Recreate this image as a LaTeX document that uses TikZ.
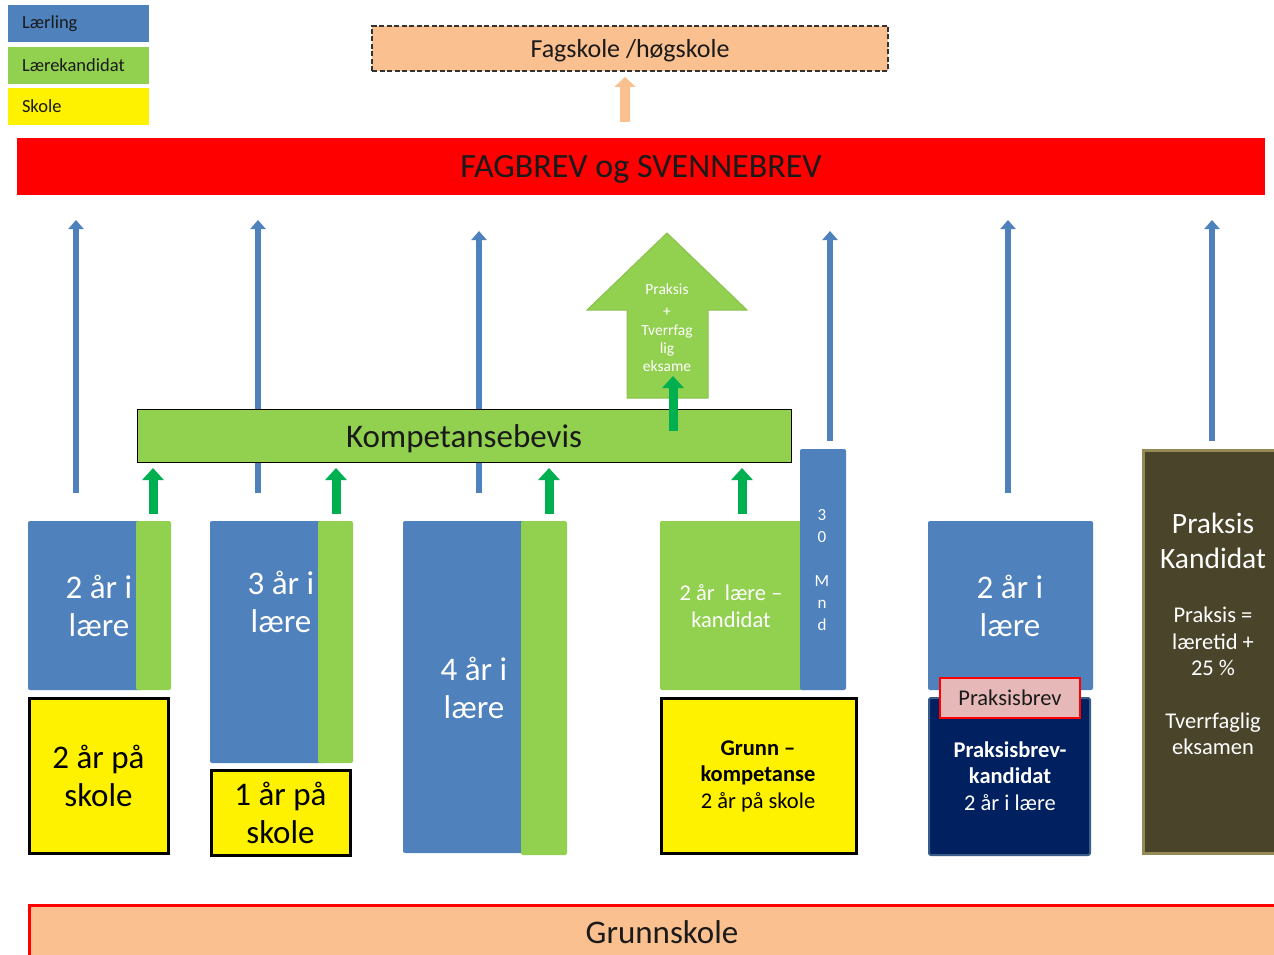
\documentclass[tikz,border=0pt]{standalone}
\usepackage{fontspec}
\setmainfont{Carlito}
\usetikzlibrary{arrows.meta}
\definecolor{lblue}{HTML}{4F81BD}
\definecolor{lgreen}{HTML}{92D050}
\definecolor{peach}{HTML}{FAC090}
\definecolor{dgreen}{HTML}{00B050}
\definecolor{navy}{HTML}{002060}
\definecolor{navyedge}{HTML}{385D8A}
\definecolor{brownbox}{HTML}{4A452A}
\definecolor{olive}{HTML}{948A54}
\definecolor{pinkbox}{HTML}{E6B9B8}
\definecolor{greenedge}{HTML}{8CC152}
\definecolor{txt}{HTML}{1A1A1A}
\newcommand\fsz[2]{\fontsize{#1}{#2}\selectfont}
\begin{document}
\begin{tikzpicture}[x=1pt,y=-1pt,
  box/.style={inner sep=0pt,outer sep=0pt,anchor=north west},
  legbox/.style={box,minimum height=37pt,text width=113pt,inner xsep=14pt,align=left,font=\fsz{18.5}{22},text=txt},
  bluebox/.style={box,fill=lblue,rounded corners=2pt},
  greenbox/.style={box,fill=lgreen,rounded corners=2pt},
  yellowbox/.style={box,fill=yellow,draw=black,line width=3pt},
  bigtxt/.style={inner sep=0pt,align=center,font=\fsz{33}{38}},
  midtxt/.style={inner sep=0pt,align=center,font=\fsz{22.5}{26.5}},
  bluearrow/.style={draw=lblue,line width=6pt,-{Triangle[width=15pt,length=9pt]}},
  greenarrow/.style={draw=dgreen,line width=9pt,-{Triangle[width=21pt,length=12pt]}},
  peacharrow/.style={draw=peach,line width=10pt,-{Triangle[width=21pt,length=10pt]}},
]
\useasboundingbox (0,0) rectangle (1274,955);

% legend
\node[legbox,fill=lblue] (leg1) at (8,5) {\raisebox{-2pt}{Lærling}};
\node[legbox,fill=lgreen] (leg2) at (8,47) {\raisebox{-2pt}{Lærekandidat}};
\node[legbox,fill=yellow] (leg3) at (8,88) {\raisebox{-2pt}{Skole}};

% top boxes
\node[box,fill=peach,draw=black!80,dash pattern=on 5pt off 2.5pt,line width=1.3pt,minimum width=516pt,minimum height=45pt] (fag) at (372,26) {};
\node[font=\fsz{26}{30},text=txt,yshift=-2pt] at (fag.center) {Fagskole /høgskole};
\node[box,fill=red,minimum width=1248pt,minimum height=57pt] (bar) at (17,138) {};
\node[font=\fsz{34}{38},text=txt,yshift=-3pt] at (bar.center) {FAGBREV og SVENNEBREV};
\coordinate (pa0) at (625,122);
\coordinate (pa1) at (625,77);
\draw[peacharrow] (pa0) -- (pa1);

% blue arrows
\foreach \n/\x/\ya/\yb in {1/76/493/220, 2/258/493/220, 3/479/493/231, 4/830/441/231, 5/1008/493/220, 6/1212/441/220}{
  \coordinate (ba\n s) at (\x,\ya);
  \coordinate (ba\n e) at (\x,\yb);
  \draw[bluearrow] (ba\n s) -- (ba\n e);
}

% big green arrow
\draw[fill=lgreen,draw=greenedge,line width=1pt]
  (667,233) -- (747,310) -- (708,310) -- (708,398) -- (627,398) -- (627,310) -- (587,310) -- cycle;
\node[inner sep=0pt,align=center,text=white,font=\fsz{15.5}{18}] (praks) at (667,328)
  {Praksis\\[4pt]+\\[1pt]Tverrfag\\lig\\eksame};

% Kompetansebevis
\node[box,fill=lgreen,draw=black,line width=1pt,minimum width=654pt,minimum height=53pt] (komp) at (137,409) {};
\node[font=\fsz{33}{38},text=txt,yshift=-3pt] at (komp.center) {Kompetansebevis};
\coordinate (ga0) at (673,431);
\coordinate (ga0e) at (673,376);
\draw[greenarrow] (ga0) -- (ga0e);

% column 1
\node[bluebox,minimum width=115pt,minimum height=169pt] (c1b) at (28,521) {};
\node[bigtxt,text=white] at (99,606) {2 år i\\lære};
\node[greenbox,minimum width=35pt,minimum height=169pt] (c1g) at (136,521) {};
\node[yellowbox,minimum width=139pt,minimum height=155pt] (c1y) at (29,698) {};
\node[bigtxt] at (c1y.center) {2 år på\\skole};

% column 2
\node[bluebox,minimum width=115pt,minimum height=242pt] (c2b) at (210,521) {};
\node[bigtxt,text=white] at (281,602) {3 år i\\lære};
\node[greenbox,minimum width=35pt,minimum height=242pt] (c2g) at (318,521) {};
\node[yellowbox,minimum width=139pt,minimum height=85pt] (c2y) at (211,770) {};
\node[bigtxt] at (c2y.center) {1 år på\\skole};

% column 3
\node[bluebox,minimum width=125pt,minimum height=332pt] (c3b) at (403,521) {};
\node[bigtxt,text=white] at (474,688) {4 år i\\lære};
\node[greenbox,minimum width=46pt,minimum height=334pt] (c3g) at (521,521) {};

% column 4
\node[greenbox,minimum width=147pt,minimum height=169pt] (c4g) at (660,521) {};
\node[midtxt,text=white] at (731,606) {2 år\ \ lære –\\kandidat};
\node[bluebox,minimum width=46pt,minimum height=241pt] (c4b) at (800,449) {};
\node[inner sep=0pt,align=center,text=white,font=\fsz{17}{22}] at (822,570) {3\\0\\[22pt]M\\n\\d};
\node[yellowbox,minimum width=195pt,minimum height=155pt] (c4y) at (661,698) {};
\node[midtxt] at (758,776) {\textbf{Grunn –}\\\textbf{kompetanse}\\2 år på skole};

% column 5
\node[bluebox,minimum width=165pt,minimum height=169pt] (c5b) at (928,521) {};
\node[bigtxt,text=white] at (1010,606) {2 år i\\lære};
\node[box,fill=navy,draw=navyedge,line width=2pt,rounded corners=2pt,minimum width=161pt,minimum height=157pt] (c5n) at (929,698) {};
\node[midtxt,text=white] at (1010,776) {\textbf{Praksisbrev-}\\\textbf{kandidat}\\2 år i lære};
\node[box,fill=pinkbox,draw=red,line width=1.5pt,minimum width=140pt,minimum height=40pt,font=\fsz{22.5}{26},text=txt] (pbrev) at (940,678) {Praksisbrev};

% column 6
\node[box,fill=brownbox,draw=olive,line width=3pt,minimum width=134pt,minimum height=403pt] (c6) at (1143,450) {};
\node[inner sep=0pt,align=center,text=white,font=\fsz{29.5}{35}] at (1213,541) {Praksis\\Kandidat};
\node[midtxt,text=white] at (1213,681) {Praksis =\\læretid +\\25 \%\\[26pt]Tverrfaglig\\eksamen};

% small green arrows
\foreach \n/\x in {1/153,2/336,3/549,4/742}{
  \coordinate (ga\n s) at (\x,514);
  \coordinate (ga\n e) at (\x,468);
  \draw[greenarrow] (ga\n s) -- (ga\n e);
}

% Grunnskole
\node[box,fill=peach,draw=red,line width=3pt,minimum width=1260pt,minimum height=60pt] (grunn) at (29,905) {};
\node[font=\fsz{33}{38},text=txt] at (662,932) {Grunnskole};
\end{tikzpicture}
\end{document}
